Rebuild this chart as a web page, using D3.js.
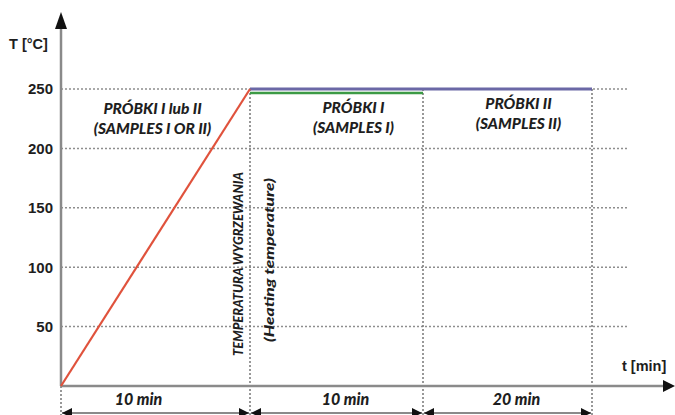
<!DOCTYPE html>
<html>
<head>
<meta charset="utf-8">
<script src="https://cdn.jsdelivr.net/npm/d3@7"></script>
<style>
  html, body { margin: 0; padding: 0; background: #fff; }
  svg { display: block; }
  .lbl { font-family: Lato, "Open Sans", sans-serif; font-weight: 900; font-style: italic; fill: #1e1e1e; }
  .axislbl { font-family: "Liberation Sans", Arial, sans-serif; font-weight: 700; fill: #1e1e1e; }
</style>
</head>
<body>
<svg id="chart" width="675" height="415"></svg>
<script>
// Heat-treatment schedule: ramp to the soaking temperature, then hold.
const timeBreaks = [0, 10, 20, 40];            // min, stage boundaries
const stageDurations = ["10 min", "10 min", "20 min"];
const tempTicks = [50, 100, 150, 200, 250];    // °C
const rampTime = [0, 10];
const rampTemp = [0, 250];
const samplesITime = [10, 20];
const samplesIITime = [10, 40];
const holdTemp = 250;
const zoneTitles = ["PRÓBKI I lub II", "PRÓBKI I", "PRÓBKI II"];
const zoneSubtitles = ["(SAMPLES I OR II)", "(SAMPLES I)", "(SAMPLES II)"];
const holdLabel = ["TEMPERATURA WYGRZEWANIA", "(Heating temperature)"];

const svg = d3.select("#chart");

// Stages are drawn with their own widths, so the time scale is piecewise.
const x = d3.scaleLinear().domain(timeBreaks).range([61, 250, 423, 592]);
const y = d3.scaleLinear().domain([0, 250]).range([386, 89]);

const gridEnd = x(40) + 36;
const dimY = 413;

// horizontal dotted grid
svg.append("g").selectAll("line").data(tempTicks).join("line")
  .attr("x1", x(0)).attr("x2", gridEnd)
  .attr("y1", d => y(d)).attr("y2", d => y(d))
  .attr("stroke", "#8e8e8e").attr("stroke-width", 1.5)
  .attr("stroke-dasharray", "2,2");

// vertical dotted stage boundaries
svg.append("g").selectAll("line").data(timeBreaks).join("line")
  .attr("x1", d => x(d)).attr("x2", d => x(d))
  .attr("y1", d => d === 0 ? y(0) : y(holdTemp)).attr("y2", 415)
  .attr("stroke", "#777").attr("stroke-width", 1.5)
  .attr("stroke-dasharray", "2,2");

// y axis: labels only, line drawn separately with an arrow
const yAxis = d3.axisLeft(y).tickValues(tempTicks).tickSize(0).tickPadding(8);
const gy = svg.append("g").attr("transform", `translate(${x(0)},0)`).call(yAxis);
gy.select(".domain").remove();
gy.selectAll("text").attr("class", "axislbl").attr("font-size", 15)
  .attr("font-family", null).attr("fill", null);

const axisColor = "#8a8a8a";
svg.append("line").attr("x1", x(0)).attr("x2", x(0)).attr("y1", y(0)).attr("y2", 26)
  .attr("stroke", axisColor).attr("stroke-width", 2.5);
svg.append("path").attr("d", `M${x(0)},12 L${x(0) - 6},29 L${x(0) + 6},29 Z`).attr("fill", "#111");

svg.append("line").attr("x1", x(0)).attr("x2", 666).attr("y1", y(0)).attr("y2", y(0))
  .attr("stroke", axisColor).attr("stroke-width", 2.5);
svg.append("path").attr("d", `M675,${y(0)} L663,${y(0) - 6} L663,${y(0) + 6} Z`).attr("fill", "#111");

svg.append("text").attr("class", "axislbl").attr("font-size", 14.5)
  .attr("x", 9).attr("y", 49).text("T [°C]");
svg.append("text").attr("class", "axislbl").attr("font-size", 14.5)
  .attr("x", 622).attr("y", 371).text("t [min]");

// hold lines (samples II full hold, samples I shorter hold drawn just beneath)
const line = d3.line().x(d => x(d[0])).y(d => y(d[1]));
svg.append("path").datum(samplesIITime.map(t => [t, holdTemp]))
  .attr("d", line).attr("fill", "none").attr("stroke", "#6b68a6").attr("stroke-width", 3);
svg.append("path").datum(samplesITime.map(t => [t, holdTemp]))
  .attr("d", line).attr("transform", "translate(0,4)")
  .attr("fill", "none").attr("stroke", "#3c9a45").attr("stroke-width", 2.5);

// heating ramp
svg.append("path").datum(rampTime.map((t, i) => [t, rampTemp[i]]))
  .attr("d", line).attr("fill", "none").attr("stroke", "#e0523c").attr("stroke-width", 2.2);

// zone captions
const zoneShift = [-3, 17, 11];
const zoneTop = [114, 113, 109];
zoneTitles.forEach((t, i) => {
  const cx = (x(timeBreaks[i]) + x(timeBreaks[i + 1])) / 2 + zoneShift[i];
  svg.append("text").attr("class", "lbl").attr("font-size", 15.5)
    .attr("text-anchor", "middle").attr("x", cx).attr("y", zoneTop[i]).text(t);
  svg.append("text").attr("class", "lbl").attr("font-size", 15.5)
    .attr("text-anchor", "middle").attr("x", cx).attr("y", zoneTop[i] + 20).text(zoneSubtitles[i]);
});

// rotated hold-temperature caption
svg.append("text").attr("class", "lbl").attr("font-size", 13.5)
  .attr("text-anchor", "middle").attr("dominant-baseline", "middle")
  .attr("textLength", 184).attr("lengthAdjust", "spacingAndGlyphs")
  .attr("transform", `translate(${x(10) - 10},264) rotate(-90)`).text(holdLabel[0]);
svg.append("text").attr("class", "lbl").attr("font-size", 14)
  .attr("text-anchor", "middle").attr("dominant-baseline", "middle")
  .attr("textLength", 164).attr("lengthAdjust", "spacingAndGlyphs")
  .attr("transform", `translate(${x(10) + 20},260) rotate(-90)`).text(holdLabel[1]);

// dimension arrows under the time axis
const defs = svg.append("defs");
defs.append("marker").attr("id", "ah").attr("viewBox", "0 0 10 10")
  .attr("refX", 10).attr("refY", 5).attr("markerWidth", 10).attr("markerHeight", 10)
  .attr("markerUnits", "userSpaceOnUse").attr("orient", "auto-start-reverse")
  .append("path").attr("d", "M0,0 L10,5 L0,10 Z").attr("fill", "#111");

const durShift = [-17, 9, 9];
stageDurations.forEach((d, i) => {
  const a = x(timeBreaks[i]), b = x(timeBreaks[i + 1]);
  svg.append("line").attr("x1", a + 1).attr("x2", b - 1).attr("y1", dimY).attr("y2", dimY)
    .attr("stroke", axisColor).attr("stroke-width", 2)
    .attr("marker-start", "url(#ah)").attr("marker-end", "url(#ah)");
  svg.append("text").attr("class", "lbl").attr("font-size", 16)
    .attr("text-anchor", "middle").attr("x", (a + b) / 2 + durShift[i]).attr("y", 405).text(d);
});
</script>
</body>
</html>
